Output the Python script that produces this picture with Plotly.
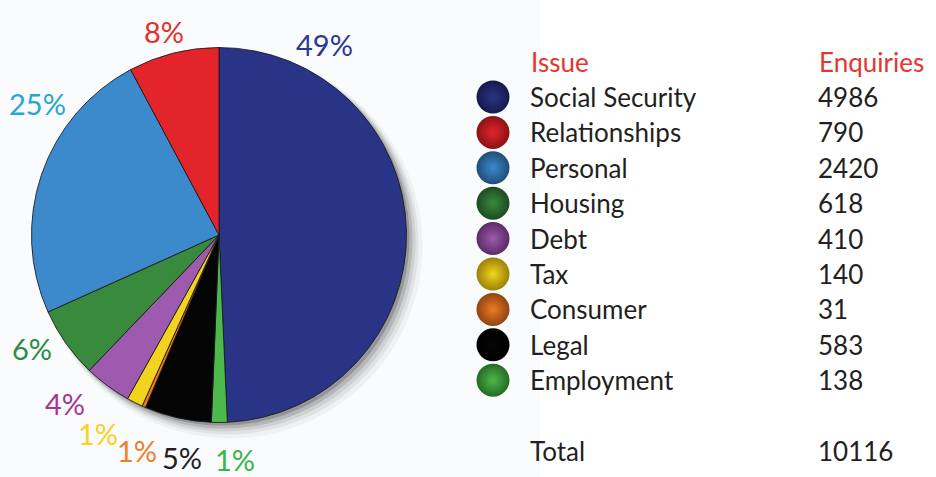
import plotly.graph_objects as go

# ---- data (legend order) ----
issues = ["Social Security", "Relationships", "Personal", "Housing", "Debt",
          "Tax", "Consumer", "Legal", "Employment"]
enquiries = [4986, 790, 2420, 618, 410, 140, 31, 583, 138]
pct_labels = ["49%", "8%", "25%", "6%", "4%", "1%", "1%", "5%", "1%"]
total_label = "Total"
total_value = 10116
header_issue = "Issue"
header_enq = "Enquiries"

slice_colors = ["#2a3487", "#e3242b", "#3c8acb", "#3a8a3e", "#9d5aae",
                "#f2d41f", "#ee7a27", "#050505", "#4db84b"]
edge_colors = ["#151a4a", "#8a1216", "#1f4d78", "#1d4a20", "#5a2d66",
               "#9a8208", "#8f4510", "#000000", "#256b24"]
label_colors = ["#2c3990", "#e0312b", "#27a6cf", "#2c8c46", "#a8368f",
                "#fccf22", "#e9822a", "#231f20", "#3ab54a"]

W, H = 936, 477
FONT = "Lato"

# pie drawn clockwise from 12 o'clock: first item, then the rest reversed
order = [0] + list(range(len(issues) - 1, 0, -1))

fig = go.Figure()
fig.add_trace(go.Pie(
    labels=[issues[i] for i in order],
    values=[enquiries[i] for i in order],
    marker=dict(colors=[slice_colors[i] for i in order],
                line=dict(color="rgba(25,25,25,0.85)", width=1)),
    sort=False, direction="clockwise", rotation=0,
    textinfo="none", showlegend=False,
    domain=dict(x=[31.5 / W, 406.5 / W], y=[1 - 423 / H, 1 - 47 / H]),
))

# legend rows: row index -> y axis value
rows = list(range(len(issues)))
fig.add_trace(go.Scatter(
    x=[493] * len(issues), y=rows, mode="markers",
    marker=dict(size=33, color=edge_colors,
                gradient=dict(type="radial", color=slice_colors),
                line=dict(width=0)),
    showlegend=False, hoverinfo="skip",
))

ann = []
txt_col = "#231f20"
for i, (name, val) in enumerate(zip(issues, enquiries)):
    ann.append(dict(x=528, y=i, xref="x", yref="y", text=name, showarrow=False,
                    xanchor="left", yanchor="middle",
                    font=dict(family=FONT, size=26, color=txt_col)))
    ann.append(dict(x=816, y=i, xref="x", yref="y", text=str(val), showarrow=False,
                    xanchor="left", yanchor="middle",
                    font=dict(family=FONT, size=26, color=txt_col)))
ann.append(dict(x=529, y=-1, xref="x", yref="y", text=header_issue, showarrow=False,
                xanchor="left", yanchor="middle",
                font=dict(family=FONT, size=26, color="#e2382f")))
ann.append(dict(x=817, y=-1, xref="x", yref="y", text=header_enq, showarrow=False,
                xanchor="left", yanchor="middle",
                font=dict(family=FONT, size=26, color="#e2382f")))
ann.append(dict(x=528, y=10, xref="x", yref="y", text=total_label, showarrow=False,
                xanchor="left", yanchor="middle",
                font=dict(family=FONT, size=26, color=txt_col)))
ann.append(dict(x=816, y=10, xref="x", yref="y", text=str(total_value), showarrow=False,
                xanchor="left", yanchor="middle",
                font=dict(family=FONT, size=26, color=txt_col)))

# percentage labels around the pie (pixel positions of label centres)
label_pos = [(324, 42), (164, 29), (37, 101), (32, 346), (65, 401),
             (98, 431), (137, 448), (182, 455), (235, 457)]
for txt, col, (px, py) in zip(pct_labels, label_colors, label_pos):
    ann.append(dict(x=px / W, y=1 - (py + 2) / H, xref="paper", yref="paper",
                    text=txt, showarrow=False, xanchor="center", yanchor="middle",
                    font=dict(family=FONT, size=29, color=col)))

# soft drop shadow behind the pie + light panel background
cx, cy, r = 219, 235, 187.5
shapes = [dict(type="rect", xref="paper", yref="paper", x0=0, x1=540 / W, y0=0, y1=1,
               fillcolor="#f9fbfd", line=dict(width=0), layer="below")]
for off, grow, alpha in [(11, 5, 0.04), (9, 3, 0.06), (7, 2, 0.08), (5, 1, 0.12), (3, 0, 0.18)]:
    shapes.append(dict(type="circle", xref="paper", yref="paper",
                       x0=(cx - r - grow + off) / W, x1=(cx + r + grow + off) / W,
                       y0=1 - (cy + r + grow + off) / H, y1=1 - (cy - r - grow + off) / H,
                       fillcolor=f"rgba(0,0,0,{alpha})", line=dict(width=0),
                       layer="below"))

row_px0, row_step = 97, 35.4
fig.update_layout(
    width=W, height=H, margin=dict(l=0, r=0, t=0, b=0),
    paper_bgcolor="white", plot_bgcolor="rgba(0,0,0,0)",
    xaxis=dict(range=[0, W], visible=False, domain=[0, 1], fixedrange=True),
    yaxis=dict(range=[(H - row_px0) / row_step, -row_px0 / row_step],
               visible=False, domain=[0, 1], fixedrange=True),
    annotations=ann, shapes=shapes, showlegend=False,
)

fig.write_html("out.html", config=dict(displayModeBar=False),
               post_script="document.body.style.margin='0';document.body.style.overflow='hidden';")
